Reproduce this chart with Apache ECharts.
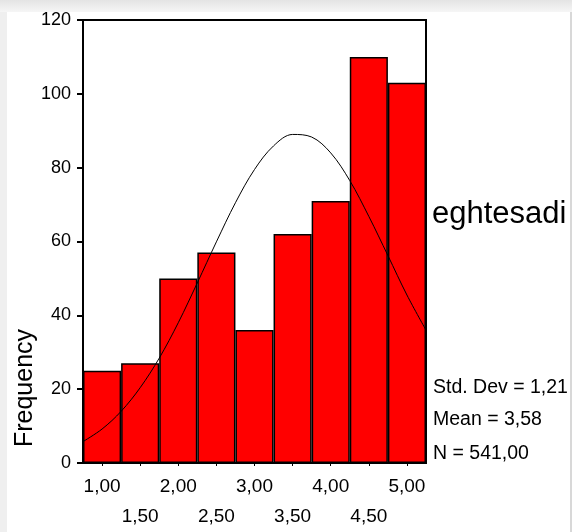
<!DOCTYPE html>
<html>
<head>
<meta charset="utf-8">
<script src="https://cdn.jsdelivr.net/npm/echarts@6/dist/echarts.min.js"></script>
<style>
html,body{margin:0;padding:0;background:#fff;}
#c{width:572px;height:532px;}
</style>
</head>
<body>
<div id="c"></div>
<script>
// Histogram bins (centers) and counts
var categories = ['1,00','1,50','2,00','2,50','3,00','3,50','4,00','4,50','5,00'];
var counts = [25, 27, 50, 57, 36, 62, 71, 110, 103];
// Normal curve
var curveX = [0.75, 1.0, 1.25, 1.5, 1.75, 2.0, 2.25, 2.5, 2.75, 3.0, 3.25, 3.5, 3.75, 4.0, 4.25, 4.5, 4.75, 5.0, 5.25];
var curveY = [5.8, 9.2, 14.0, 20.4, 28.4, 38.0, 48.8, 59.9, 70.5, 79.5, 85.9, 89.0, 88.3, 84.0, 76.5, 66.8, 56.2, 45.5, 36.0];
var yTicks = [0, 20, 40, 60, 80, 100, 120];
var varName = 'eghtesadi';
var statLines = ['Std. Dev = 1,21', 'Mean = 3,58', 'N = 541,00'];
var yTitle = 'Frequency';

var curveData = curveX.map(function (x, i) { return [x, curveY[i]]; });
var FONT = 'Liberation Sans, Arial, sans-serif';

var chart = echarts.init(document.getElementById('c'), null, {renderer: 'canvas'});
var graphics = [
  {type: 'rect', left: 0, top: 0, shape: {width: 7, height: 532}, style: {fill: '#efefef'}, silent: true},
  {type: 'rect', left: 0, top: 0, shape: {width: 572, height: 12},
   style: {fill: new echarts.graphic.LinearGradient(0, 0, 0, 1, [{offset: 0, color: '#e4e4e4'}, {offset: 1, color: '#f6f6f6'}])}, silent: true},
  {type: 'rect', left: 570, top: 12, shape: {width: 2, height: 520}, style: {fill: '#d8d8d8'}, silent: true},
  {type: 'text', x: 25, y: 388, rotation: Math.PI / 2,
   style: {text: yTitle, font: '25px ' + FONT, fill: '#000', textAlign: 'center', textVerticalAlign: 'middle'}},
  {type: 'text', x: 432, y: 214,
   style: {text: varName, font: '31px ' + FONT, fill: '#000', textAlign: 'left', textVerticalAlign: 'middle'}}
];
var statY = [388, 420, 454];
statLines.forEach(function (s, i) {
  graphics.push({type: 'text', x: 433, y: statY[i],
    style: {text: s, font: '19.5px ' + FONT, fill: '#000', textAlign: 'left', textVerticalAlign: 'middle'}});
});

chart.setOption({
  backgroundColor: '#fff',
  animation: false,
  grid: {left: 83, top: 20, right: 146, bottom: 60, show: true, borderColor: '#000', borderWidth: 2, backgroundColor: 'transparent'},
  xAxis: [{
    type: 'category',
    data: categories,
    boundaryGap: true,
    axisLine: {lineStyle: {color: '#000', width: 2}},
    axisTick: {show: true, alignWithLabel: true, length: 3, lineStyle: {color: '#000'}},
    axisLabel: {
      interval: 0, margin: 9, fontSize: 19, fontFamily: FONT, color: '#000', lineHeight: 30,
      formatter: function (v, idx) { return idx % 2 ? '\n' + v : v; }
    },
    splitLine: {show: false}
  }, {
    type: 'value', min: 0.75, max: 5.25, show: false
  }],
  yAxis: {
    type: 'value', min: 0, max: 120, interval: 20,
    axisLine: {show: true, lineStyle: {color: '#000', width: 2}},
    axisTick: {show: true, length: 6, lineStyle: {color: '#000', width: 2}},
    axisLabel: {margin: 12, fontSize: 18, fontFamily: FONT, color: '#000',
      formatter: function (v) { return yTicks.indexOf(v) >= 0 ? String(v) : ''; }},
    splitLine: {show: false}
  },
  series: [{
    type: 'bar', data: counts, xAxisIndex: 0, barCategoryGap: 0, barGap: 0,
    itemStyle: {color: '#ff0000', borderColor: '#000', borderWidth: 1.5},
    z: 2
  }, {
    type: 'line', data: curveData, xAxisIndex: 1, smooth: 0.35, symbol: 'none',
    lineStyle: {color: '#000', width: 1}, z: 3
  }],
  graphic: graphics
});
</script>
</body>
</html>
